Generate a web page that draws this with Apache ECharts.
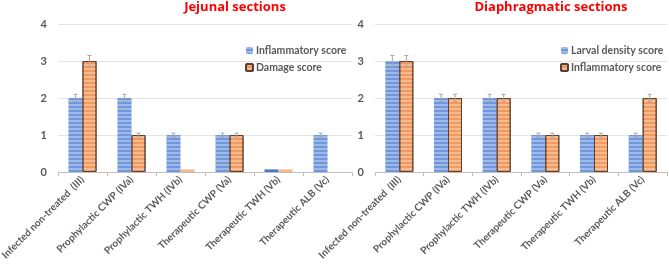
<!DOCTYPE html>
<html><head><meta charset="utf-8">
<script src="https://cdn.jsdelivr.net/npm/echarts@6/dist/echarts.min.js"></script>
<style>html,body{margin:0;padding:0;background:#fff}#c{width:669px;height:270px}</style>
</head><body><div id="c"></div>
<script>
var categories = ['Infected non-treated  (III)','Prophylactic CWP (IVa)','Prophylactic TWH (IVb)','Therapeutic CWP (Va)','Therapeutic TWH (Vb)','Therapeutic ALB (Vc)'];
var yTicks = [0,1,2,3,4];
var jejInflammatory = [2,2,1,1,0.07,1];
var jejDamage = [3,1,0.07,1,0.07,0];
var jejInflammatoryErr = [0.1,0.1,0.05,0.05,0,0.05];
var jejDamageErr = [0.15,0.05,0,0.05,0,0];
var diaLarval = [3,2,2,1,1,1];
var diaInflammatory = [3,2,2,1,1,2];
var diaLarvalErr = [0.15,0.1,0.1,0.05,0.05,0.05];
var diaInflammatoryErr = [0.15,0.1,0.1,0.05,0.05,0.1];

var BLUE='#7096dc', ORANGE='#f2995e';
var stripe = {symbol:'rect',symbolSize:1,dashArrayX:[1,0],dashArrayY:[1.6,1.8],rotation:0,color:'rgba(255,255,255,0.33)'};
var noDecal = {symbol:'rect',symbolSize:1,dashArrayX:[1,0],dashArrayY:[1,1],rotation:0,color:'rgba(255,255,255,0)'};
var font = 'Lato, Open Sans, sans-serif';
var tfont = 'Open Sans, sans-serif';

function blueData(arr){return arr.map(function(v){return v<0.5?{value:v,itemStyle:{color:'#4a76c8',decal:noDecal}}:v;});}
function orangeData(arr){return arr.map(function(v){return v<0.5?{value:v,itemStyle:{color:'#f7b68c',borderWidth:0,decal:noDecal}}:v;});}

function errSeries(xi, vals, errs, dx){
  return {type:'custom',xAxisIndex:xi,yAxisIndex:xi,z:10,silent:true,
    data: vals.map(function(v,i){return [i,v,errs[i]];}),
    renderItem:function(params,api){
      var e=api.value(2); if(!e) return null;
      var i=api.value(0), v=api.value(1);
      var hi=api.coord([i,v+e]), lo=api.coord([i,v-e]);
      var x=hi[0]+dx, c=2;
      var st={stroke:'#a6a6a6',lineWidth:1};
      return {type:'group',children:[
        {type:'line',shape:{x1:x,y1:hi[1],x2:x,y2:lo[1]},style:st},
        {type:'line',shape:{x1:x-c,y1:hi[1],x2:x+c,y2:hi[1]},style:st},
        {type:'line',shape:{x1:x-c,y1:lo[1],x2:x+c,y2:lo[1]},style:st}
      ]};
    }};
}

function xAx(gi){return {type:'category',gridIndex:gi,data:categories,
  axisLine:{lineStyle:{color:'#bfbfbf'}},axisTick:{show:true,length:4,lineStyle:{color:'#bfbfbf'}},
  axisLabel:{rotate:45,interval:0,color:'#595959',fontSize:10,fontWeight:'bold',fontFamily:font,margin:6}};}
function yAx(gi,m){return {type:'value',gridIndex:gi,min:yTicks[0],max:yTicks[yTicks.length-1],interval:1,
  axisLine:{show:false},axisTick:{show:false},
  splitLine:{lineStyle:{color:'#e3e3e3'}},
  axisLabel:{color:'#595959',fontSize:11,fontWeight:'bold',fontFamily:font,margin:m}};}

var legendText = {color:'#595959',fontSize:10.5,fontWeight:'bold',fontFamily:font,padding:[0,0,0,-2]};
var chart=echarts.init(document.getElementById('c'),null,{renderer:'canvas'});
chart.setOption({
  animation:false,
  title:[
    {text:'Jejunal sections',left:235,top:1,padding:0,textAlign:'center',textStyle:{color:'#ff0000',fontSize:13,fontWeight:'bold',fontFamily:tfont}},
    {text:'Diaphragmatic sections',left:551,top:1,padding:0,textAlign:'center',textStyle:{color:'#ff0000',fontSize:13,fontWeight:'bold',fontFamily:tfont}}
  ],
  legend:[
    {data:['Inflammatory score','Damage score'],left:240,top:40,orient:'vertical',itemWidth:7,itemHeight:7,itemGap:6,textStyle:legendText},
    {data:['Larval density score','Inflammatory score '],left:555,top:40,orient:'vertical',itemWidth:7,itemHeight:7,itemGap:6,textStyle:legendText}
  ],
  grid:[
    {left:58,top:24,width:294,height:148,outerBoundsMode:'none'},
    {left:375,top:24,width:292,height:148,outerBoundsMode:'none'}
  ],
  xAxis:[xAx(0),xAx(1)],
  yAxis:[yAx(0,11),yAx(1,11)],
  series:[
    {name:'Inflammatory score',type:'bar',xAxisIndex:0,yAxisIndex:0,barWidth:14,barGap:'0%',data:blueData(jejInflammatory),
     itemStyle:{color:BLUE,decal:stripe}},
    {name:'Damage score',type:'bar',xAxisIndex:0,yAxisIndex:0,barWidth:14,barGap:'0%',data:orangeData(jejDamage),
     itemStyle:{color:ORANGE,borderColor:'#5a4030',borderWidth:1,decal:stripe}},
    {name:'Larval density score',type:'bar',xAxisIndex:1,yAxisIndex:1,barWidth:14,barGap:'0%',data:diaLarval,
     itemStyle:{color:BLUE,decal:stripe}},
    {name:'Inflammatory score ',type:'bar',xAxisIndex:1,yAxisIndex:1,barWidth:14,barGap:'0%',data:diaInflammatory,
     itemStyle:{color:ORANGE,borderColor:'#5a4030',borderWidth:1,decal:stripe}},
    errSeries(0,jejInflammatory,jejInflammatoryErr,-7),
    errSeries(0,jejDamage,jejDamageErr,7),
    errSeries(1,diaLarval,diaLarvalErr,-7),
    errSeries(1,diaInflammatory,diaInflammatoryErr,7)
  ]
});
</script></body></html>
